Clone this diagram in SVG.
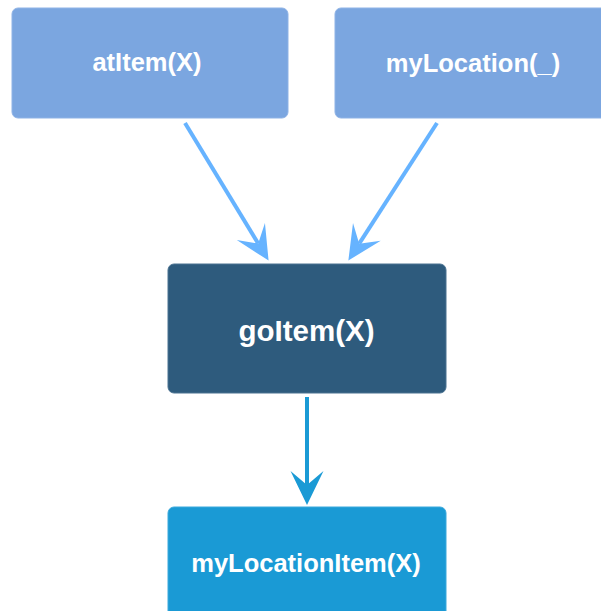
<svg xmlns="http://www.w3.org/2000/svg" width="601" height="611" viewBox="0 0 601 611">
  <style>
    .lbl { font-family: "Liberation Sans", Arial, sans-serif; font-weight: bold; font-size: 25.5px; fill: #ffffff; text-anchor: middle; }
    .big { font-size: 29.5px; }
    .top { fill: #7ba6e0; stroke: #8fb3e6; stroke-width: 1; }
    .mid { fill: #2e5b7d; stroke: #4a7291; stroke-width: 1; }
    .bot { fill: #1a9ad5; stroke: #3aa9dc; stroke-width: 1; }
    .edge-light { stroke: #66b3ff; stroke-width: 4; fill: none; }
    .edge-dark { stroke: #1a9ad5; stroke-width: 4; fill: none; }
  </style>
  <defs>
    <marker id="arrowLight" markerUnits="userSpaceOnUse" markerWidth="40" markerHeight="40" viewBox="-15 -16 34 32" refX="0" refY="0" orient="auto">
      <path d="M17,0 L-12,-14 L0,0 L-12,14 Z" fill="#66b3ff"/>
    </marker>
    <marker id="arrowDark" markerUnits="userSpaceOnUse" markerWidth="40" markerHeight="40" viewBox="-15 -16 34 32" refX="0" refY="0" orient="auto">
      <path d="M17,0 L-12,-14 L0,0 L-12,14 Z" fill="#1a9ad5"/>
    </marker>
  </defs>
  <rect width="601" height="611" fill="#ffffff"/>
  <g id="connectors">
    <line class="edge-light" x1="185" y1="123" x2="258.2" y2="243.5" marker-end="url(#arrowLight)"/>
    <line class="edge-light" x1="437" y1="123" x2="359.2" y2="243.7" marker-end="url(#arrowLight)"/>
    <line class="edge-dark" x1="307" y1="397" x2="307" y2="485" marker-end="url(#arrowDark)"/>
  </g>
  <g id="atItem">
    <rect class="top" x="12" y="8" width="276" height="110" rx="6"/>
    <text class="lbl" x="147" y="71">atItem(X)</text>
  </g>
  <g id="myLocation">
    <rect class="top" x="335" y="8" width="276" height="110" rx="6"/>
    <text class="lbl" x="473" y="71.5">myLocation(_)</text>
  </g>
  <g id="goItem">
    <rect class="mid" x="168" y="264" width="278" height="129" rx="6"/>
    <text class="lbl big" x="306.5" y="341">goItem(X)</text>
  </g>
  <g id="myLocationItem">
    <rect class="bot" x="168" y="507" width="278" height="120" rx="6"/>
    <text class="lbl" x="306" y="572">myLocationItem(X)</text>
  </g>
</svg>
